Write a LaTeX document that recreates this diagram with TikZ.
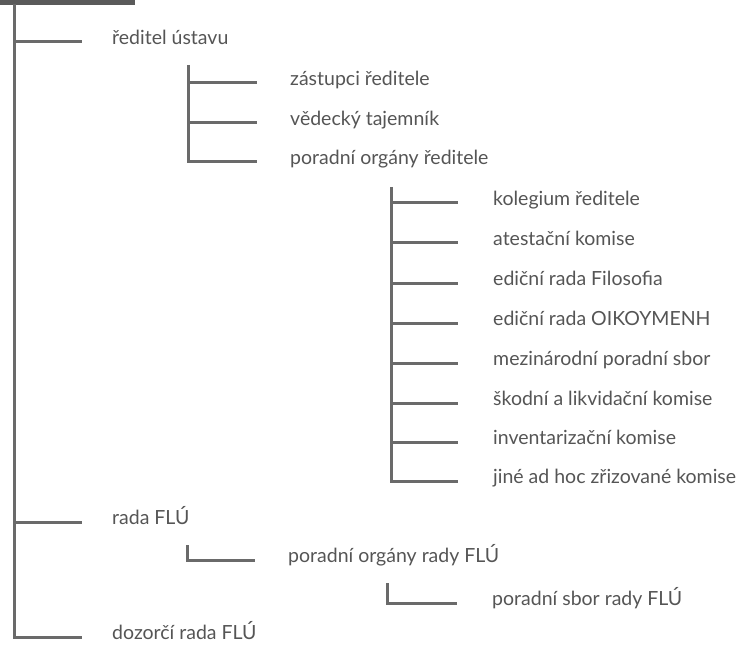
\documentclass[tikz,border=0pt]{standalone}
\usepackage{fontspec}
\setmainfont{Lato}
\definecolor{linegray}{HTML}{6A6A6A}
\definecolor{textgray}{HTML}{555555}
\definecolor{boxgray}{HTML}{5A5A5A}
\begin{document}
\begin{tikzpicture}[x=1pt,y=-1pt,
  conn/.style={draw=linegray,line width=3pt,line join=miter},
  lbl/.style={anchor=mid west,inner sep=0pt,text=textgray,font=\fontsize{19.5}{22}\selectfont}]
\useasboundingbox (0,0) rectangle (741,652);
\fill[boxgray] (0,0) rectangle (135,5);
% root level
\coordinate (r0) at (14,4);
\coordinate (re1) at (82,42);
\coordinate (re2) at (82,522);
\coordinate (re3) at (82,637);
\node[lbl] (t1) at (112,42) {ředitel ústavu};
\node[lbl] (t2) at (112,522) {rada FLÚ};
\node[lbl] (t3) at (112,637) {dozorčí rada FLÚ};
\draw[conn] (r0) |- (re3);
\draw[conn] (r0 |- re1) -- (re1);
\draw[conn] (r0 |- re2) -- (re2);
% level under reditel
\coordinate (s0) at (188,65);
\coordinate (se1) at (257,83);
\coordinate (se2) at (257,123);
\coordinate (se3) at (257,162);
\node[lbl] (u1) at (290,83) {zástupci ředitele};
\node[lbl] (u2) at (290,123) {vědecký tajemník};
\node[lbl] (u3) at (290,162) {poradní orgány ředitele};
\draw[conn] (s0) |- (se3);
\draw[conn] (s0 |- se1) -- (se1);
\draw[conn] (s0 |- se2) -- (se2);
% level under poradni organy reditele
\coordinate (k0) at (391,187);
\coordinate (ke1) at (458,203);
\coordinate (ke2) at (458,243);
\coordinate (ke3) at (458,283);
\coordinate (ke4) at (458,323);
\coordinate (ke5) at (458,363);
\coordinate (ke6) at (458,403);
\coordinate (ke7) at (458,442);
\coordinate (ke8) at (458,481);
\node[lbl] (v1) at (493,203) {kolegium ředitele};
\node[lbl] (v2) at (493,243) {atestační komise};
\node[lbl] (v3) at (493,283) {ediční rada Filosofia};
\node[lbl] (v4) at (493,323) {ediční rada OIKOYMENH};
\node[lbl] (v5) at (493,363) {mezinárodní poradní sbor};
\node[lbl] (v6) at (493,403) {škodní a likvidační komise};
\node[lbl] (v7) at (493,442) {inventarizační komise};
\node[lbl] (v8) at (493,481) {jiné ad hoc zřizované komise};
\draw[conn] (k0) |- (ke8);
\foreach \i in {1,...,7}{\draw[conn] (k0 |- ke\i) -- (ke\i);}
% rada FLU subtree
\coordinate (p0) at (187,545);
\coordinate (pe1) at (255,560);
\node[lbl] (w1) at (288,560) {poradní orgány rady FLÚ};
\draw[conn] (p0) |- (pe1);
\coordinate (q0) at (387,583);
\coordinate (qe1) at (457,603);
\node[lbl] (x1) at (492,603) {poradní sbor rady FLÚ};
\draw[conn] (q0) |- (qe1);
\end{tikzpicture}
\end{document}
